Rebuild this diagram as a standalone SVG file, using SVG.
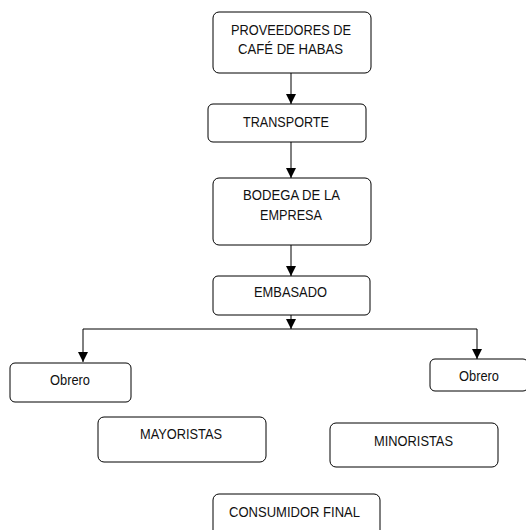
<svg xmlns="http://www.w3.org/2000/svg" width="526" height="530" viewBox="0 0 526 530">
<style>
.b{fill:#fff;stroke:#000;stroke-width:1}
.t{font-family:"Liberation Sans",Arial,sans-serif;font-size:15px;fill:#111;text-anchor:middle}
.c{fill:none;stroke:#000;stroke-width:1}
</style>
<defs>
<marker id="a" viewBox="0 0 10 10" refX="10" refY="5" markerWidth="10" markerHeight="10" markerUnits="userSpaceOnUse" orient="auto">
<path d="M0,0 L10,5 L0,10 Z" fill="#000"/>
</marker>
</defs>
<rect width="526" height="530" fill="#fff"/>
<g id="connectors">
<path class="c" d="M291,73 V104" marker-end="url(#a)"/>
<path class="c" d="M291,142 V178" marker-end="url(#a)"/>
<path class="c" d="M291,245 V276" marker-end="url(#a)"/>
<path class="c" d="M291,315 V329" marker-end="url(#a)"/>
<path class="c" d="M83,329 H477"/>
<path class="c" d="M83,329 V362" marker-end="url(#a)"/>
<path class="c" d="M477,329 V359" marker-end="url(#a)"/>
</g>
<g id="proveedores">
<rect class="b" x="213" y="12" width="158" height="61" rx="6"/>
<text class="t" x="291" y="35" textLength="120" lengthAdjust="spacingAndGlyphs">PROVEEDORES DE</text>
<text class="t" x="290.5" y="54" textLength="105" lengthAdjust="spacingAndGlyphs">CAFÉ DE HABAS</text>
</g>
<g id="transporte">
<rect class="b" x="208" y="104" width="158" height="38" rx="5"/>
<text class="t" x="286" y="127" textLength="86" lengthAdjust="spacingAndGlyphs">TRANSPORTE</text>
</g>
<g id="bodega">
<rect class="b" x="213" y="178" width="158" height="67" rx="6"/>
<text class="t" x="291.5" y="200" textLength="97" lengthAdjust="spacingAndGlyphs">BODEGA DE LA</text>
<text class="t" x="291" y="220" textLength="62" lengthAdjust="spacingAndGlyphs">EMPRESA</text>
</g>
<g id="embasado">
<rect class="b" x="213" y="276" width="157" height="39" rx="5"/>
<text class="t" x="290.5" y="297" textLength="73" lengthAdjust="spacingAndGlyphs">EMBASADO</text>
</g>
<g id="obrero1">
<rect class="b" x="10" y="363" width="121" height="39" rx="5"/>
<text class="t" x="70" y="385" textLength="40" lengthAdjust="spacingAndGlyphs">Obrero</text>
</g>
<g id="obrero2">
<rect class="b" x="430" y="359" width="98" height="32" rx="5"/>
<text class="t" x="479" y="381" textLength="40" lengthAdjust="spacingAndGlyphs">Obrero</text>
</g>
<g id="mayoristas">
<rect class="b" x="98" y="417" width="168" height="45" rx="6"/>
<text class="t" x="181" y="439" textLength="82" lengthAdjust="spacingAndGlyphs">MAYORISTAS</text>
</g>
<g id="minoristas">
<rect class="b" x="330" y="423" width="168" height="44" rx="6"/>
<text class="t" x="413.5" y="446" textLength="79" lengthAdjust="spacingAndGlyphs">MINORISTAS</text>
</g>
<g id="consumidor">
<rect class="b" x="213" y="494" width="167" height="45" rx="6"/>
<text class="t" x="294.5" y="517" textLength="131" lengthAdjust="spacingAndGlyphs">CONSUMIDOR FINAL</text>
</g>
</svg>
